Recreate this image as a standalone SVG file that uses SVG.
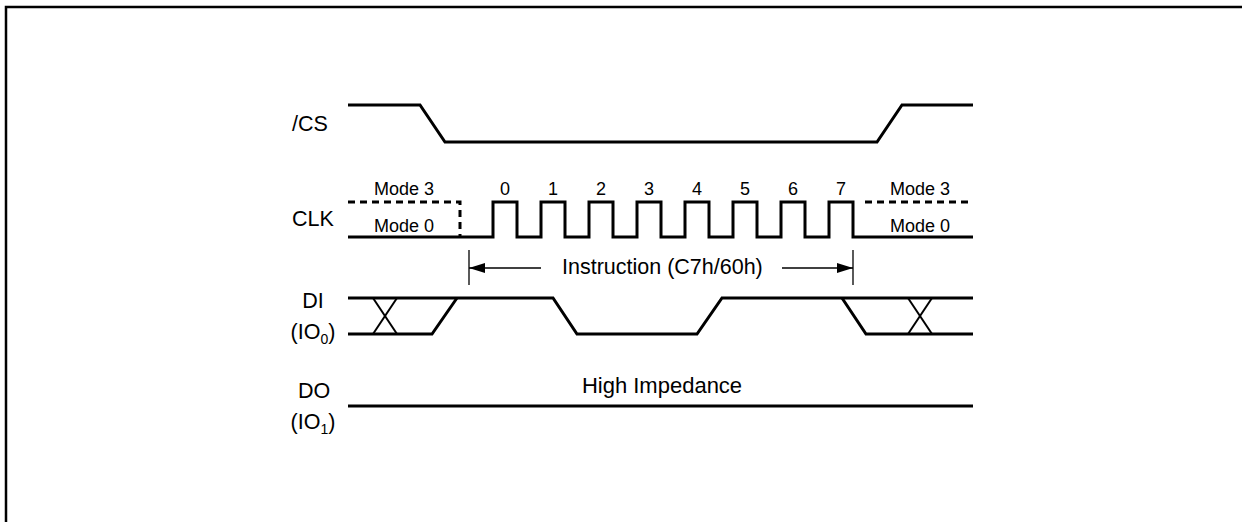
<svg xmlns="http://www.w3.org/2000/svg" width="1242" height="522" viewBox="0 0 1242 522">
<style>
.sig{fill:none;stroke:#000;stroke-width:3;stroke-linejoin:miter}
.dash{fill:none;stroke:#000;stroke-width:3;stroke-dasharray:7 5}
.thin{fill:none;stroke:#000;stroke-width:1.3}
.lbl{font-family:"Liberation Sans",Arial,sans-serif;font-size:21.5px;fill:#000}
.sm{font-family:"Liberation Sans",Arial,sans-serif;font-size:18px;fill:#000;text-anchor:middle}
.mid{text-anchor:middle}
</style>
<defs>
<marker id="ah" viewBox="0 0 16 10" refX="16" refY="5" markerWidth="16" markerHeight="10" markerUnits="userSpaceOnUse" orient="auto">
<path d="M0,0 L16,5 L0,10 Z" fill="#000"/>
</marker>
</defs>
<rect x="6" y="7" width="1300" height="600" fill="none" stroke="#000" stroke-width="2.5"/>
<g id="label-cs"><text class="lbl" x="292" y="131">/CS</text></g>
<g id="label-clk"><text class="lbl" x="292" y="226">CLK</text></g>
<g id="label-di"><text class="lbl mid" x="313" y="308">DI</text><text class="lbl mid" x="313" y="339">(IO<tspan font-size="14" dy="5">0</tspan><tspan dy="-5">)</tspan></text></g>
<g id="label-do"><text class="lbl mid" x="314" y="398">DO</text><text class="lbl mid" x="313" y="429">(IO<tspan font-size="14" dy="5">1</tspan><tspan dy="-5">)</tspan></text></g>
<g id="cs-signal"><polyline class="sig" points="348,105 420,105 445,142 877,142 902,105 973,105"/></g>
<g id="clk-signal">
<polyline class="dash" points="348,202 460,202 460,237"/>
<polyline class="dash" points="865,202 973,202"/>
<polyline class="sig" points="348,237 493,237 493,202 517,202 517,237 541,237 541,202 565,202 565,237 589,237 589,202 613,202 613,237 637,237 637,202 661,202 661,237 685,237 685,202 709,202 709,237 733,237 733,202 757,202 757,237 781,237 781,202 805,202 805,237 829,237 829,202 853,202 853,237 973,237"/>
<text class="sm" x="404" y="195">Mode 3</text>
<text class="sm" x="404" y="232">Mode 0</text>
<text class="sm" x="920" y="195">Mode 3</text>
<text class="sm" x="920" y="232">Mode 0</text>
<text class="sm" x="505" y="195">0</text>
<text class="sm" x="553" y="195">1</text>
<text class="sm" x="601" y="195">2</text>
<text class="sm" x="649" y="195">3</text>
<text class="sm" x="697" y="195">4</text>
<text class="sm" x="745" y="195">5</text>
<text class="sm" x="793" y="195">6</text>
<text class="sm" x="841" y="195">7</text>
</g>
<g id="connectors">
<line class="thin" x1="469" y1="250" x2="469" y2="285"/>
<line class="thin" x1="853" y1="250" x2="853" y2="285"/>
<line class="thin" x1="541" y1="268" x2="469" y2="268" marker-end="url(#ah)"/>
<line class="thin" x1="782" y1="268" x2="853" y2="268" marker-end="url(#ah)"/>
</g>
<g id="instruction-label"><text class="lbl" x="562" y="274">Instruction (C7h/60h)</text></g>
<g id="di-signal">
<polyline class="sig" points="348,298 457,298 553,298 577,334 697,334 722,298 973,298"/>
<polyline class="sig" points="348,334 432,334 457,298"/>
<line class="sig" x1="373" y1="334" x2="397" y2="298" style="stroke-width:2"/>
<line class="sig" x1="373" y1="298" x2="397" y2="334" style="stroke-width:2"/>
<polyline class="sig" points="842,298 866,334 973,334"/>
<line class="sig" x1="908" y1="334" x2="932" y2="298" style="stroke-width:2"/>
<line class="sig" x1="908" y1="298" x2="932" y2="334" style="stroke-width:2"/>
</g>
<g id="do-signal">
<line class="sig" x1="348" y1="406" x2="973" y2="406"/>
<text class="lbl mid" x="662" y="393" style="font-size:22px">High Impedance</text>
</g>
</svg>
